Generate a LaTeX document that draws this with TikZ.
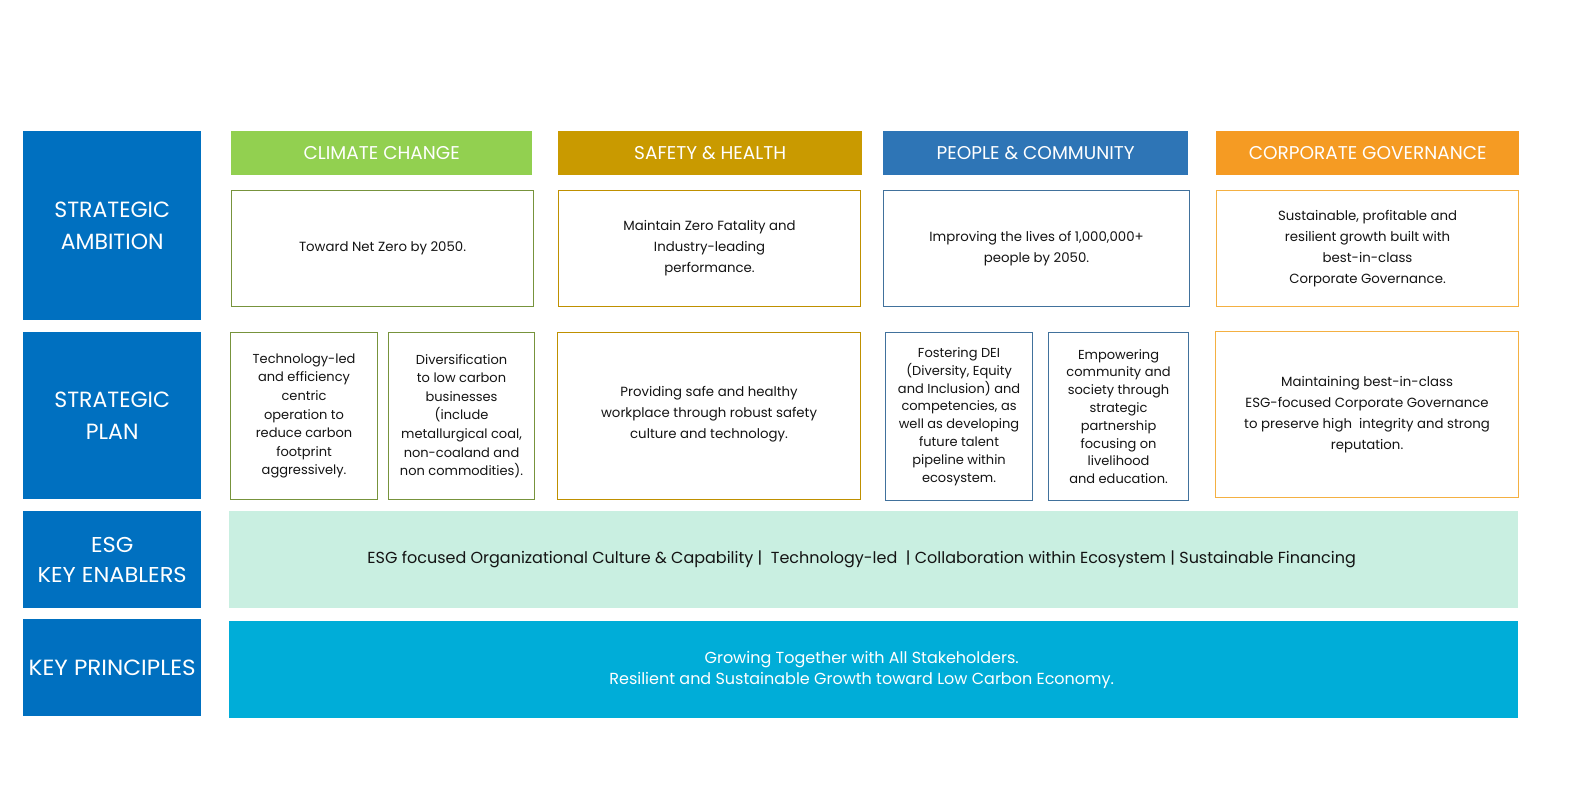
\documentclass[tikz,border=0pt]{standalone}
\usepackage{fontspec}
\setmainfont{Poppins}
\newfontfamily\widefont[FakeStretch=1.05]{Poppins}
\definecolor{labelblue}{RGB}{0,112,192}
\definecolor{climate}{RGB}{146,208,80}
\definecolor{safety}{RGB}{201,154,0}
\definecolor{people}{RGB}{46,117,182}
\definecolor{gov}{RGB}{245,155,35}
\definecolor{climateb}{RGB}{119,147,60}
\definecolor{safetyb}{RGB}{191,144,0}
\definecolor{peopleb}{RGB}{65,113,156}
\definecolor{govb}{RGB}{244,176,66}
\definecolor{mint}{RGB}{201,239,225}
\definecolor{cyanband}{RGB}{0,173,216}
\definecolor{txt}{RGB}{20,20,20}
\tikzset{
  box/.style={anchor=north west, inner sep=0pt, align=center, rectangle},
  rowlabel/.style={box, fill=labelblue, text=white, font=\fontsize{22}{32}\selectfont},
  header/.style={box, text=white, font=\fontsize{18.5}{22}\selectfont},
  cell/.style={box, fill=white, line width=1.1pt, text=txt, font=\fontsize{13.3}{21}\selectfont},
  pcell/.style={box, fill=white, line width=1.1pt, text=txt, font=\fontsize{13}{18.6}\selectfont},
  band/.style={box},
  bandtext/.style={inner sep=0pt, align=center, font=\fontsize{16}{21}\selectfont},
}
\begin{document}
\begin{tikzpicture}[x=1pt,y=-1pt]
\useasboundingbox[fill=white] (0,0) rectangle (1572,800);
% row labels
\node[rowlabel, minimum width=178, minimum height=189] (lamb) at (23,131) {STRATEGIC\\AMBITION};
\node[rowlabel, minimum width=178, minimum height=167] (lplan) at (23,332) {STRATEGIC\\PLAN};
\node[rowlabel, minimum width=178, minimum height=97, font=\widefont\fontsize{21.5}{30}\selectfont] (lesg) at (23,511) {ESG\\KEY ENABLERS};
\node[rowlabel, minimum width=178, minimum height=97, font=\widefont\fontsize{22}{30}\selectfont] (lkey) at (23,619) {KEY PRINCIPLES};
% headers
\node[header, fill=climate, minimum width=301, minimum height=44] (hcc) at (231,131) {CLIMATE CHANGE};
\node[header, fill=safety, minimum width=304, minimum height=44] (hsh) at (558,131) {SAFETY \& HEALTH};
\node[header, fill=people, minimum width=305, minimum height=44] (hpc) at (883,131) {PEOPLE \& COMMUNITY};
\node[header, fill=gov, minimum width=303, minimum height=44] (hcg) at (1216,131) {CORPORATE GOVERNANCE};
% ambition
\node[cell, draw=climateb, minimum width=302, minimum height=116] (acc) at (231,190) {Toward Net Zero by 2050.};
\node[cell, draw=safetyb, minimum width=302, minimum height=116] (ash) at (558,190) {Maintain Zero Fatality and\\Industry-leading\\performance.};
\node[cell, draw=peopleb, minimum width=306, minimum height=116] (apc) at (883,190) {Improving the lives of 1,000,000+\\people by 2050.};
\node[cell, draw=govb, minimum width=302, minimum height=116] (acg) at (1216,190) {Sustainable, profitable and\\resilient growth built with\\best-in-class\\Corporate Governance.};
% plan
\node[pcell, draw=climateb, minimum width=147, minimum height=167] (pcc1) at (230,332) {Technology-led\\and efficiency\\centric\\operation to\\reduce carbon\\footprint\\aggressively.};
\node[pcell, draw=climateb, minimum width=146, minimum height=167] (pcc2) at (388,332) {Diversification\\to low carbon\\businesses\\(include\\metallurgical coal,\\non-coaland and\\non commodities).};
\node[pcell, draw=safetyb, minimum width=303, minimum height=167, font=\fontsize{13.3}{21}\selectfont] (psh) at (557,332) {Providing safe and healthy\\workplace through robust safety\\culture and technology.\\[-14pt]};
\node[pcell, draw=peopleb, minimum width=147, minimum height=168, font=\fontsize{13}{17.8}\selectfont] (ppc1) at (885,332) {Fostering DEI\\(Diversity, Equity\\and Inclusion) and\\competencies, as\\well as developing\\future talent\\pipeline within\\ecosystem.};
\node[pcell, draw=peopleb, minimum width=140, minimum height=168, font=\fontsize{13}{17.8}\selectfont] (ppc2) at (1048,332) {Empowering\\community and\\society through\\strategic\\partnership\\focusing on\\livelihood\\and education.};
\node[pcell, draw=govb, minimum width=303, minimum height=166, font=\fontsize{13.3}{21.3}\selectfont] (pcg) at (1215,331) {Maintaining best-in-class\\ESG-focused Corporate Governance\\to preserve high\ \ integrity and strong\\reputation.\\[-18pt]};
% bands
\node[band, fill=mint, minimum width=1289, minimum height=97] (esg) at (229,511) {};
\node[bandtext, text=txt] (esgt) at ([xshift=-12pt]esg.center) {ESG focused Organizational Culture \& Capability |\ \ Technology-led\ \ | Collaboration within Ecosystem | Sustainable Financing};
\node[band, fill=cyanband, minimum width=1289, minimum height=97] (kp) at (229,621) {};
\node[bandtext, text=white] (kpt) at ([xshift=-12pt]kp.center) {Growing Together with All Stakeholders.\\Resilient and Sustainable Growth toward Low Carbon Economy.};
\end{tikzpicture}
\end{document}
